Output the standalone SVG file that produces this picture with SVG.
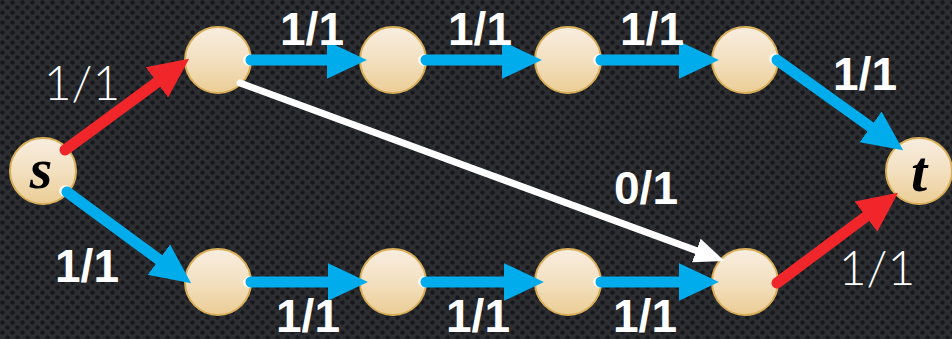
<svg xmlns="http://www.w3.org/2000/svg" width="952" height="339" viewBox="0 0 952 339">
  <defs>
    <!-- perforated carbon backdrop -->
    <pattern id="holes" width="10" height="10" patternUnits="userSpaceOnUse">
      <rect width="10" height="10" fill="#2c2e32"/>
      <circle cx="2.5" cy="2.5" r="2.3" fill="#17181b"/>
      <circle cx="7.5" cy="7.5" r="2.3" fill="#17181b"/>
    </pattern>
    <linearGradient id="nodeFill" x1="0" y1="0" x2="0" y2="1">
      <stop offset="0" stop-color="#f8eddf"/>
      <stop offset="0.5" stop-color="#f3e0c0"/>
      <stop offset="1" stop-color="#ebcd95"/>
    </linearGradient>
    <marker id="headRed" markerUnits="userSpaceOnUse" markerWidth="40" markerHeight="40" viewBox="0 -17 36 34" refX="1" refY="0" orient="auto">
      <polygon points="0,-17 36,0 0,17" fill="#f0262a"/>
    </marker>
    <marker id="headBlue" markerUnits="userSpaceOnUse" markerWidth="40" markerHeight="40" viewBox="0 -17 36 34" refX="1" refY="0" orient="auto">
      <polygon points="0,-17 36,0 0,17" fill="#00acec"/>
    </marker>
    <marker id="headWhite" markerUnits="userSpaceOnUse" markerWidth="30" markerHeight="30" viewBox="0 -10 24 20" refX="1" refY="0" orient="auto">
      <polygon points="0,-10 24,0 0,10" fill="#ffffff"/>
    </marker>
  </defs>
  <style>
    .node { fill: url(#nodeFill); stroke: #d9ae58; stroke-width: 2; }
    .edge { fill: none; stroke-width: 11; stroke-linecap: round; }
    .red { stroke: #f0262a; marker-end: url(#headRed); }
    .blue { stroke: #00acec; marker-end: url(#headBlue); }
    .white { stroke: #ffffff; stroke-width: 7; marker-end: url(#headWhite); }
    .rim { fill: #ffffff; }
    .lbl { font-family: "Liberation Sans", Arial, sans-serif; font-weight: bold; font-size: 46px; fill: #ffffff; text-anchor: middle; }
    .thin { font-family: "Lato", "Open Sans", sans-serif; font-weight: 300; font-size: 48px; fill: #ffffff; text-anchor: middle; }
    .var { font-family: "Liberation Serif", "Times New Roman", serif; font-weight: bold; font-style: italic; font-size: 58px; fill: #000000; text-anchor: middle; }
  </style>

  <rect width="952" height="339" fill="url(#holes)"/>

  <g id="nodes">
    <g id="s"><circle class="node" cx="43" cy="171" r="33"/><text class="var" x="41" y="188">s</text></g>
    <g id="a1"><circle class="node" cx="218" cy="60" r="33"/></g>
    <g id="a2"><circle class="node" cx="393" cy="60" r="33"/></g>
    <g id="a3"><circle class="node" cx="568" cy="60" r="33"/></g>
    <g id="a4"><circle class="node" cx="745" cy="60" r="33"/></g>
    <g id="b1"><circle class="node" cx="218" cy="282" r="33"/></g>
    <g id="b2"><circle class="node" cx="393" cy="282" r="33"/></g>
    <g id="b3"><circle class="node" cx="568" cy="282" r="33"/></g>
    <g id="b4"><circle class="node" cx="745" cy="282" r="33"/></g>
    <g id="t"><circle class="node" cx="919" cy="171" r="33"/><text class="var" x="919" y="191">t</text></g>
  </g>

  <g id="connectors">
    <!-- white rims at the line starts -->
    <circle class="rim" cx="249" cy="60" r="5.8"/>
    <circle class="rim" cx="424" cy="60" r="5.8"/>
    <circle class="rim" cx="599" cy="60" r="5.8"/>
    <circle class="rim" cx="249" cy="282" r="5.8"/>
    <circle class="rim" cx="424" cy="282" r="5.8"/>
    <circle class="rim" cx="599" cy="282" r="5.8"/>
    <circle class="rim" cx="65" cy="191" r="5.8"/>
    <circle class="rim" cx="775" cy="59" r="5.8"/>

    <!-- s to first nodes -->
    <line class="edge red" x1="65" y1="150" x2="157.8" y2="81.7"/>
    <line class="edge blue" x1="67" y1="192" x2="159.8" y2="260.3"/>
    <!-- upper chain -->
    <line class="edge blue" x1="251" y1="60" x2="328" y2="60"/>
    <line class="edge blue" x1="426" y1="60" x2="503" y2="60"/>
    <line class="edge blue" x1="601" y1="60" x2="680" y2="60"/>
    <!-- lower chain -->
    <line class="edge blue" x1="251" y1="282" x2="329" y2="282"/>
    <line class="edge blue" x1="426" y1="282" x2="505" y2="282"/>
    <line class="edge blue" x1="601" y1="282" x2="680" y2="282"/>
    <!-- into t -->
    <line class="edge blue" x1="777" y1="60" x2="871.5" y2="127.6"/>
    <line class="edge red" x1="777" y1="283" x2="866.9" y2="215.9"/>
    <!-- cross edge -->
    <line class="edge white" x1="240" y1="83" x2="697.5" y2="251"/>
  </g>

  <g id="labels">
    <text class="thin" x="82" y="100">1/1</text>
    <text class="lbl" x="87" y="282">1/1</text>
    <text class="lbl" x="312" y="45">1/1</text>
    <text class="lbl" x="480" y="45">1/1</text>
    <text class="lbl" x="652" y="45">1/1</text>
    <text class="lbl" x="865" y="90">1/1</text>
    <text class="lbl" x="308" y="332">1/1</text>
    <text class="lbl" x="478" y="332">1/1</text>
    <text class="lbl" x="645" y="332">1/1</text>
    <text class="lbl" x="646" y="204">0/1</text>
    <text class="thin" x="877" y="285">1/1</text>
  </g>
</svg>
